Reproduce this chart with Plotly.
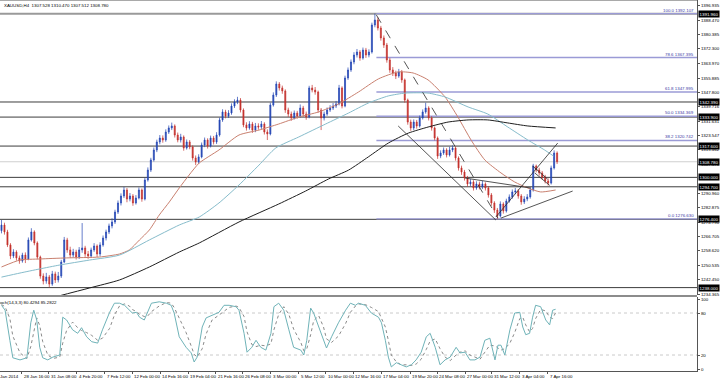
import plotly.graph_objects as go

# ---------------- data ----------------
opens = [1270.0,1273.2,1269.3,1262.0,1255.8,1258.0,1254.7,1253.0,1256.3,1254.1,
1264.8,1269.3,1263.1,1255.2,1244.5,1241.7,1244.0,1240.0,1245.7,1242.3,
1244.5,1252.4,1264.8,1259.2,1256.3,1258.0,1255.2,1259.2,1260.3,1256.9,
1255.8,1259.2,1261.4,1256.9,1262.0,1265.9,1269.3,1272.7,1274.9,1280.5,
1285.6,1289.5,1292.9,1287.8,1289.5,1285.6,1288.4,1292.9,1287.8,1298.5,
1304.1,1309.8,1315.4,1319.9,1322.1,1321.0,1325.5,1327.8,1328.9,1323.8,
1321.0,1322.7,1316.5,1319.9,1317.1,1310.9,1308.6,1311.5,1318.2,1321.0,
1317.6,1322.1,1319.9,1323.8,1332.3,1336.8,1334.5,1336.2,1340.1,1342.4,
1343.5,1337.9,1329.5,1327.8,1330.0,1326.6,1328.9,1328.3,1330.0,1325.5,
1324.4,1340.7,1346.3,1352.5,1350.3,1348.6,1337.9,1335.6,1333.4,1336.2,
1334.5,1339.0,1335.6,1334.0,1350.3,1349.1,1348.0,1337.9,1333.4,1335.6,
1337.9,1339.0,1340.1,1341.3,1350.3,1340.1,1355.9,1360.4,1364.9,1368.8,
1370.5,1367.1,1371.6,1368.8,1370.5,1385.7,1388.5,1384.0,1378.4,1374.4,
1366.0,1360.4,1358.7,1357.0,1359.3,1354.8,1343.5,1331.1,1327.8,1331.1,
1328.9,1333.4,1336.8,1339.0,1333.4,1327.8,1322.1,1312.0,1313.7,1315.4,
1312.6,1315.4,1316.5,1310.9,1305.3,1303.0,1299.6,1296.3,1297.4,1294.0,
1296.3,1294.6,1296.3,1294.0,1290.1,1285.6,1281.6,1278.3,1285.0,1281.1,
1286.7,1289.0,1291.8,1292.3,1289.5,1286.2,1287.8,1289.0,1292.9,1306.4,
1304.1,1302.5,1300.2,1298.0,1296.8,1305.3,1313.7]

highs = [1276.0,1274.5,1270.5,1263.0,1259.6,1259.0,1256.0,1257.6,1257.8,1266.2,
1271.4,1270.2,1264.0,1256.0,1246.0,1246.3,1245.1,1247.4,1247.0,1246.8,
1253.6,1266.5,1266.0,1261.0,1259.8,1259.3,1260.8,1274.3,1261.5,1258.6,
1260.5,1263.0,1262.3,1263.5,1267.3,1270.6,1274.0,1277.0,1281.8,1287.0,
1291.0,1294.6,1294.0,1291.2,1290.6,1290.0,1294.3,1293.8,1299.8,1305.6,
1311.0,1316.8,1321.2,1323.8,1323.6,1327.0,1329.2,1330.8,1329.8,1325.2,
1324.5,1323.6,1321.3,1321.0,1318.0,1312.3,1313.0,1319.6,1322.4,1322.0,
1323.5,1323.3,1325.4,1333.6,1338.3,1338.0,1337.8,1341.6,1343.9,1345.3,
1344.6,1338.8,1331.0,1331.6,1331.2,1330.6,1330.4,1331.7,1331.0,1327.0,
1342.0,1347.8,1354.0,1353.6,1351.6,1349.5,1339.2,1337.0,1337.6,1337.4,
1341.0,1340.2,1337.0,1351.5,1352.0,1350.8,1348.8,1339.0,1337.0,1339.3,
1340.6,1341.8,1343.0,1352.0,1351.2,1357.2,1361.8,1366.3,1370.4,1372.2,
1371.6,1373.0,1372.8,1372.0,1387.0,1392.1,1390.0,1385.2,1379.8,1375.6,
1367.2,1362.0,1360.0,1361.0,1360.4,1355.6,1344.3,1332.5,1332.6,1332.3,
1334.8,1338.2,1342.0,1340.0,1334.4,1328.6,1323.0,1315.2,1316.8,1316.4,
1317.2,1318.0,1317.4,1311.8,1306.6,1304.2,1300.8,1299.0,1298.4,1297.8,
1297.6,1298.0,1297.2,1295.0,1291.2,1286.6,1282.8,1286.5,1286.0,1288.0,
1290.4,1293.2,1294.0,1293.4,1290.6,1289.4,1290.6,1294.4,1307.6,1307.2,
1305.4,1303.6,1301.4,1299.4,1306.6,1315.2,1314.6]

lows = [1268.5,1267.8,1260.8,1254.0,1254.6,1253.2,1251.4,1252.0,1251.8,1253.4,
1263.9,1261.8,1253.9,1243.0,1239.8,1240.2,1238.2,1239.0,1240.6,1240.9,
1243.4,1251.8,1257.6,1254.6,1254.8,1253.8,1254.1,1257.6,1255.3,1254.2,
1254.7,1258.1,1255.2,1255.6,1261.0,1264.5,1268.1,1271.3,1273.8,1279.4,
1284.2,1288.4,1286.0,1286.5,1284.0,1284.7,1287.6,1286.3,1287.0,1297.6,
1303.0,1308.9,1314.2,1318.6,1319.5,1320.0,1324.4,1326.6,1322.4,1319.7,
1319.6,1315.0,1315.6,1315.8,1309.4,1306.9,1307.6,1310.7,1317.0,1316.2,
1316.8,1318.5,1318.8,1322.9,1331.2,1333.2,1333.4,1335.2,1339.0,1341.2,
1336.5,1328.2,1326.3,1326.8,1325.0,1325.4,1326.8,1327.0,1324.1,1321.0,
1323.6,1339.8,1345.2,1348.8,1347.0,1336.3,1334.0,1331.8,1332.5,1333.0,
1333.6,1334.2,1332.4,1333.2,1347.8,1346.5,1336.4,1326.6,1332.0,1334.6,
1336.8,1337.9,1339.0,1340.5,1338.8,1339.4,1354.8,1359.3,1363.6,1367.4,
1365.6,1366.2,1367.2,1367.5,1369.6,1384.4,1382.6,1376.9,1372.8,1364.5,
1358.8,1357.0,1355.3,1356.0,1353.2,1342.0,1329.6,1326.2,1326.6,1327.4,
1328.0,1332.5,1335.8,1332.0,1326.3,1320.8,1310.4,1310.8,1312.6,1311.2,
1311.7,1314.2,1309.4,1303.8,1301.4,1298.2,1294.8,1295.0,1292.6,1293.0,
1293.2,1293.4,1292.6,1288.6,1284.0,1280.0,1276.6,1277.4,1279.6,1280.2,
1285.8,1288.0,1290.6,1288.0,1284.6,1285.0,1286.6,1288.0,1292.0,1302.8,
1301.0,1298.8,1296.6,1295.4,1296.0,1304.4,1307.5]

closes = [1273.2,1269.3,1262.0,1255.8,1258.0,1254.7,1253.0,1256.3,1254.1,1264.8,
1269.3,1263.1,1255.2,1244.5,1241.7,1244.0,1240.0,1245.7,1242.3,1244.5,
1252.4,1264.8,1259.2,1256.3,1258.0,1255.2,1259.2,1260.3,1256.9,1255.8,
1259.2,1261.4,1256.9,1262.0,1265.9,1269.3,1272.7,1274.9,1280.5,1285.6,
1289.5,1292.9,1287.8,1289.5,1285.6,1288.4,1292.9,1287.8,1298.5,1304.1,
1309.8,1315.4,1319.9,1322.1,1321.0,1325.5,1327.8,1328.9,1323.8,1321.0,
1322.7,1316.5,1319.9,1317.1,1310.9,1308.6,1311.5,1318.2,1321.0,1317.6,
1322.1,1319.9,1323.8,1332.3,1336.8,1334.5,1336.2,1340.1,1342.4,1343.5,
1337.9,1329.5,1327.8,1330.0,1326.6,1328.9,1328.3,1330.0,1325.5,1324.4,
1340.7,1346.3,1352.5,1350.3,1348.6,1337.9,1335.6,1333.4,1336.2,1334.5,
1339.0,1335.6,1334.0,1350.3,1349.1,1348.0,1337.9,1333.4,1335.6,1337.9,
1339.0,1340.1,1341.3,1350.3,1340.1,1355.9,1360.4,1364.9,1368.8,1370.5,
1367.1,1371.6,1368.8,1370.5,1385.7,1388.5,1384.0,1378.4,1374.4,1366.0,
1360.4,1358.7,1357.0,1359.3,1354.8,1343.5,1331.1,1327.8,1331.1,1328.9,
1333.4,1336.8,1339.0,1333.4,1327.8,1322.1,1312.0,1313.7,1315.4,1312.6,
1315.4,1316.5,1310.9,1305.3,1303.0,1299.6,1296.3,1297.4,1294.0,1296.3,
1294.6,1296.3,1294.0,1290.1,1285.6,1281.6,1278.3,1285.0,1281.1,1286.7,
1289.0,1291.8,1292.3,1289.5,1286.2,1287.8,1289.0,1292.9,1306.4,1304.1,
1302.5,1300.2,1298.0,1296.8,1305.3,1313.7,1308.78]

# moving averages (bar index, price)
ma_red_x = [0,6.2,12.8,21.8,32.8,39.5,42.8,46.2,49.5,52.8,56.2,59.5,62.8,66.2,72.8,79.5,86.2,92.8,99.5,
            106.2,112.8,119.5,126.2,132.8,137.8,142.8,148.5,152.8,157.2,161.8,167.2,171.8,176.2,180.5,185.5]
ma_red_y = [1249.6,1253.5,1254.1,1254.7,1255.2,1256.9,1259.2,1264.8,1270.4,1278.8,1286.2,1294.0,1301.3,1308.1,
            1315.4,1323.8,1326.6,1330.0,1333.9,1336.8,1341.3,1348.0,1355.4,1359.3,1358.7,1354.8,1345.2,1333.9,
            1321.0,1309.8,1302.5,1297.4,1294.0,1291.8,1292.9]
ma_teal_x = [0,6.2,12.8,19.5,29.5,39.5,49.5,59.5,66.2,72.8,79.5,86.2,91.8,99.5,108.5,116.2,122.8,129.5,135.2,
             142.8,148.5,156.2,162.8,169.5,176.2,181.8,184.8]
ma_teal_y = [1243.9,1246.2,1248.5,1250.7,1253.5,1256.3,1264.8,1273.2,1277.7,1285.6,1295.7,1306.9,1316.5,1322.7,
             1330.0,1336.2,1341.8,1345.8,1347.4,1347.4,1345.2,1339.6,1335.6,1328.3,1321.0,1315.4,1312.0]
ma_black_x = [17.8,29.5,39.5,49.5,59.5,66.2,79.5,92.8,101.8,109.5,116.2,122.8,129.5,136.2,142.8,149.5,156.2,
              162.8,169.5,176.2,185.5]
ma_black_y = [1232.7,1237.8,1242.3,1249.6,1258.0,1263.1,1274.9,1285.0,1292.3,1299.1,1304.1,1311.5,1319.3,1324.9,
              1328.3,1331.1,1332.3,1332.3,1330.6,1328.9,1327.8]

# stochastic (bar index, main, signal)
stoch_x = [0,1.2,2.8,3.8,6.2,8.5,9.8,10.8,11.8,12.8,13.8,15.5,17.2,19.5,20.5,21.8,23.8,25.5,26.8,28.5,30.2,
           32.2,33.8,36.2,37.8,39.5,41.2,42.8,43.8,45.2,46.2,47.8,48.8,50.2,52.8,55.2,56.8,57.8,59.5,61.8,
           63.5,64.5,65.5,67.2,68.5,70.5,72.8,74.5,76.2,78.5,79.5,81.2,82.2,83.8,85.2,86.8,88.5,90.2,91.2,
           92.8,94.5,96.2,97.8,100.2,101.2,102.2,103.5,104.5,106.2,107.8,108.8,110.5,112.8,115.2,116.8,
           118.5,119.5,121.8,123.8,126.2,127.2,128.5,129.5,130.5,132.2,133.8,135.5,137.2,138.8,140.5,142.2,
           143.5,145.2,146.8,148.5,150.2,152.2,153.5,155.2,156.8,158.5,160.2,161.8,163.5,165.2,166.2,167.2,
           168.5,170.2,171.8,173.5,174.5,175.5,176.8,177.8,178.8,180.5,182.2,183.5,184.5,185.5]
stoch_main = [91,84,41,16,13,16,66,84,70,31,16,13,17,20,74,70,56,51,59,46,39,37,56,81,94,94,91,84,80,81,74,70,
              81,94,96,94,91,80,46,31,23,10,17,60,73,77,81,91,91,89,84,51,24,31,41,31,27,51,89,94,84,56,31,27,
              20,41,87,80,60,39,30,46,66,84,94,91,94,91,80,74,66,41,17,3,9,6,3,6,13,24,46,51,31,6,13,17,31,23,
              24,13,13,17,41,44,13,34,34,20,56,80,81,60,49,51,74,91,89,70,63,84,85.3]
stoch_signal = [92,89,72,47,23,15,32,55,73,62,39,20,15,17,37,55,67,59,55,52,48,41,44,58,77,90,93,90,85,82,78,75,
                75,82,90,95,94,88,72,52,33,21,17,29,50,70,77,83,88,90,88,75,53,35,32,34,33,36,56,78,89,78,57,38,
                26,29,49,69,76,60,43,38,47,65,81,90,93,92,88,82,73,60,41,20,10,6,6,5,7,14,28,40,43,29,17,12,20,24,
                26,20,17,14,24,34,33,30,27,29,37,52,72,74,63,53,58,72,85,83,74,72,80.4]

# levels
fib_start = 125.5
fib_pct = ["100.0", "78.6", "61.8", "50.0", "38.2", "0.0"]
fib_price = [1392.107, 1367.395, 1347.995, 1334.369, 1320.742, 1276.630]
hlines = [1342.390, 1333.900, 1317.600, 1300.000, 1294.700, 1276.400, 1238.000]
top_line = 1391.960
bid = 1308.780
price_ticks = [1396.935, 1388.470, 1380.385, 1372.300, 1363.970, 1355.885, 1347.800, 1339.716, 1331.631,
               1323.547, 1315.462, 1307.378, 1290.960, 1282.875, 1274.790, 1266.705, 1258.620,
               1250.535, 1242.450, 1234.365]
stoch_ticks = [100, 80, 20, 0]
time_idx = [-3.2, 6.8, 15.8, 25.2, 34.5, 43.8, 53.2, 62.5, 71.8, 80.8, 90.2, 99.5, 108.5, 117.8, 127.2,
            136.8, 145.8, 155.2, 164.2, 173.5, 182.8]
time_lbl = ["27 Jan 2014", "28 Jan 16:00", "31 Jan 08:00", "4 Feb 20:00", "7 Feb 12:00", "12 Feb 00:00",
            "14 Feb 16:00", "19 Feb 04:00", "21 Feb 16:00", "26 Feb 08:00", "3 Mar 00:00", "5 Mar 12:00",
            "10 Mar 00:00", "12 Mar 16:00", "17 Mar 04:00", "19 Mar 20:00", "24 Mar 08:00", "27 Mar 00:00",
            "31 Mar 12:00", "3 Apr 04:00", "7 Apr 16:00"]

# trend lines: ((x0, p0), (x1, p1), dash)
trend_lines = [
    ((125.5, 1391.3), (166.2, 1277.1), "dash"),
    ((132.8, 1328.9), (165.5, 1276.0), "solid"),
    ((155.2, 1299.6), (177.2, 1294.0), "solid"),
    ((167.2, 1277.1), (191.2, 1292.3), "solid"),
    ((165.5, 1277.7), (186.2, 1319.3), "solid"),
    ((177.8, 1306.4), (182.8, 1299.0), "solid"),
    ((178.5, 1302.5), (183.5, 1295.5), "solid"),
]

# ---------------- layout constants ----------------
W, H = 720, 379
ML, MR, MT, MB = 0, 20, 0, 8
PH = H - MT - MB
XR = [-0.5, 232.83]
main_dom = [1 - 295 / PH, 1]
st_dom = [0, 1 - 297 / PH]
FONT = "Liberation Sans, Arial, sans-serif"
FS = 4.4

fig = go.Figure()

fig.add_trace(go.Candlestick(
    x=list(range(len(closes))), open=opens, high=highs, low=lows, close=closes,
    increasing=dict(line=dict(color="#2446b4", width=0.7), fillcolor="#2446b4"),
    decreasing=dict(line=dict(color="#c4312c", width=0.7), fillcolor="#c4312c"),
    whiskerwidth=0, xaxis="x", yaxis="y", hoverinfo="skip"))

for xs, ys, col, w in [(ma_red_x, ma_red_y, "#c9806f", 1.0),
                        (ma_teal_x, ma_teal_y, "#86bccb", 1.0),
                        (ma_black_x, ma_black_y, "#1e1e1e", 1.0)]:
    fig.add_trace(go.Scatter(x=xs, y=ys, mode="lines", line=dict(color=col, width=w, shape="spline", smoothing=0.6),
                             xaxis="x", yaxis="y", hoverinfo="skip"))

for (x0, p0), (x1, p1), dash in trend_lines:
    fig.add_trace(go.Scatter(x=[x0, x1], y=[p0, p1], mode="lines",
                             line=dict(color="#2a2a2a", width=0.8, dash=dash),
                             xaxis="x", yaxis="y", hoverinfo="skip"))

fig.add_trace(go.Scatter(x=stoch_x, y=stoch_signal, mode="lines",
                         line=dict(color="#8a8a8a", width=1, dash="dot"), xaxis="x2", yaxis="y2", hoverinfo="skip"))
fig.add_trace(go.Scatter(x=stoch_x, y=stoch_main, mode="lines",
                         line=dict(color="#6fb3b8", width=1), xaxis="x2", yaxis="y2", hoverinfo="skip"))

shapes = []
shapes.append(dict(type="line", xref="paper", yref="y", x0=0, x1=1, y0=top_line, y1=top_line,
                   line=dict(color="#9a9a9a", width=2), layer="below"))
shapes.append(dict(type="line", xref="paper", yref="y", x0=0, x1=1, y0=bid, y1=bid,
                   line=dict(color="#cfcfcf", width=1), layer="below"))
for p in hlines:
    shapes.append(dict(type="line", xref="paper", yref="y", x0=0, x1=1, y0=p, y1=p,
                       line=dict(color="#3d3d3d", width=1), layer="below"))
for p in fib_price:
    shapes.append(dict(type="line", xref="x", yref="y", x0=fib_start, x1=XR[1], y0=p, y1=p,
                       line=dict(color="#9b9bd6", width=1.4), layer="below"))
for lv in (80, 20):
    shapes.append(dict(type="line", xref="paper", yref="y2", x0=0, x1=1, y0=lv, y1=lv,
                       line=dict(color="#bdbdbd", width=0.8, dash="dot"), layer="below"))
sep = 1 - 296 / PH
shapes.append(dict(type="line", xref="paper", yref="paper", x0=0, x1=1, y0=sep, y1=sep,
                   line=dict(color="#8c8c8c", width=2.2)))
shapes.append(dict(type="line", xref="paper", yref="paper", x0=0, x1=1, y0=1, y1=1,
                   line=dict(color="#8c8c8c", width=1.5)))

ann = []
ann.append(dict(xref="paper", yref="paper", x=0.003, y=1, yshift=-1, xanchor="left", yanchor="top",
                text="XAUUSD,H4  1307.528 1310.470 1307.512 1308.780", showarrow=False,
                font=dict(size=FS, color="#000000", family=FONT)))
ann.append(dict(xref="paper", yref="paper", x=-0.008, y=st_dom[1], yshift=-1, xanchor="left", yanchor="top",
                text="Stoch(14,3,3) 80.4294 85.2822", showarrow=False,
                font=dict(size=FS, color="#000000", family=FONT)))
for pct, p in zip(fib_pct, fib_price):
    ann.append(dict(xref="paper", yref="y", x=1, y=p, xanchor="right", yanchor="bottom", xshift=-1, yshift=-1,
                    text=f"{pct} {p:.3f}", showarrow=False, font=dict(size=FS, color="#3b3ba6", family=FONT)))
for p in [top_line] + hlines[:3] + [bid] + hlines[3:]:
    ann.append(dict(xref="paper", yref="y", x=1, y=p, xanchor="left", yanchor="middle", xshift=1,
                    text=f"{p:.3f}", showarrow=False, bgcolor="#000000", borderpad=0.6,
                    font=dict(size=FS, color="#ffffff", family=FONT)))
x_span = XR[1] - XR[0]
for ti, tl in zip(time_idx, time_lbl):
    ann.append(dict(xref="paper", yref="paper", x=(ti - XR[0]) / x_span, y=0, xanchor="left", yanchor="top",
                    yshift=-1, text=tl, showarrow=False, font=dict(size=FS, color="#000000", family=FONT)))

fig.update_layout(
    width=W, height=H, margin=dict(l=ML, r=MR, t=MT, b=MB),
    paper_bgcolor="#ffffff", plot_bgcolor="#ffffff", showlegend=False, boxgap=0.5,
    font=dict(family=FONT, size=FS, color="#000000"),
    xaxis=dict(domain=[0, 1], range=XR, anchor="y", showticklabels=False, showgrid=False, zeroline=False,
               rangeslider=dict(visible=False), fixedrange=True),
    xaxis2=dict(domain=[0, 1], range=XR, anchor="y2", matches="x", showticklabels=False, showgrid=False,
                zeroline=False, showline=True, linecolor="#555555", linewidth=1,
                ticks="outside", ticklen=2, tickcolor="#555555", tickvals=time_idx[1:]),
    yaxis=dict(domain=main_dom, range=[1233.84, 1399.75], side="right", anchor="x", showgrid=False,
               zeroline=False, showline=True, linecolor="#555555", linewidth=1, ticks="outside", ticklen=2,
               tickcolor="#555555", tickvals=price_ticks, ticktext=[f"{v:.3f}" for v in price_ticks],
               tickfont=dict(size=FS, family=FONT, color="#000000")),
    yaxis2=dict(domain=st_dom, range=[-2.86, 102.86], side="right", anchor="x2", showgrid=False,
                zeroline=False, showline=True, linecolor="#555555", linewidth=1, ticks="outside", ticklen=2,
                tickcolor="#555555", tickvals=stoch_ticks, ticktext=[str(v) for v in stoch_ticks],
                tickfont=dict(size=FS, family=FONT, color="#000000")),
    shapes=shapes, annotations=ann,
)

fig.write_html("out.html", config={"displayModeBar": False},
               post_script="document.body.style.margin='0';document.body.style.padding='0';"
                           "document.documentElement.style.overflow='hidden';")
